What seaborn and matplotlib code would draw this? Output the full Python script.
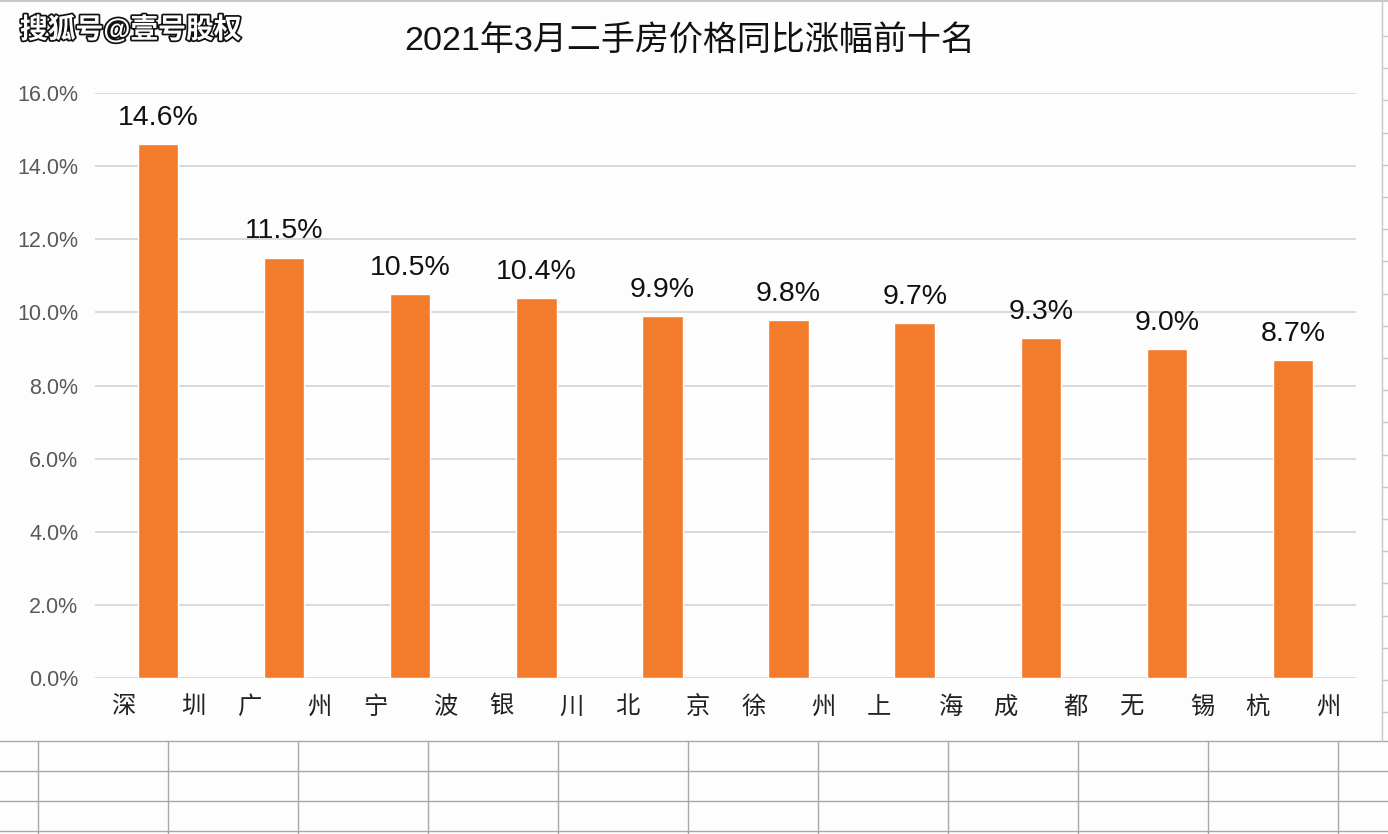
import matplotlib
matplotlib.use("Agg")
import matplotlib.pyplot as plt
import seaborn as sns
import pandas as pd
from matplotlib.lines import Line2D
import matplotlib.patheffects as pe

cities = ["深圳", "广州", "宁波", "银川", "北京", "徐州", "上海", "成都", "无锡", "杭州"]
values = [14.6, 11.5, 10.5, 10.4, 9.9, 9.8, 9.7, 9.3, 9.0, 8.7]
yticks = [0, 2, 4, 6, 8, 10, 12, 14, 16]
title = "2021年3月二手房价格同比涨幅前十名"
watermark = "搜狐号@壹号股权"

sns.set_theme(style="white")
FAM = ["Liberation Sans", "Noto Sans CJK SC", "DejaVu Sans"]
plt.rcParams["font.family"] = FAM

W, H = 1388, 834
fig = plt.figure(figsize=(W / 100, H / 100), dpi=100, facecolor="#FDFDFE")
ax = fig.add_axes([95 / W, 1 - 678 / H, (1356 - 95) / W, (678 - 93) / H])
ax.set_facecolor("#FDFDFE")

df = pd.DataFrame({"city": cities, "value": values})
sns.barplot(data=df, x="city", y="value", color="#F27C2C", width=0.32,
            saturation=1, ax=ax, zorder=3)

ax.set_xlim(-0.5, len(cities) - 0.5)
ax.set_ylim(0, 16)
ax.set_yticks(yticks)
ax.set_yticklabels([f"{v:.1f}%" for v in yticks], color="#595959", fontsize=15.5)
ax.tick_params(axis="y", length=0, pad=12)
ax.set_xticks([])
ax.set_xlabel("")
ax.set_ylabel("")
for s in ax.spines.values():
    s.set_visible(False)
ax.yaxis.grid(True, color="#D4D4D4", linewidth=1.2, zorder=0)
ax.set_axisbelow(True)

for i, (c, v) in enumerate(zip(cities, values)):
    ax.text(i, v + 0.36, f"{v:.1f}%", ha="center", va="bottom", fontsize=20.5, color="#111111")
    ax.text(i - 0.28, -0.5, c[0], ha="center", va="top", fontsize=17.5, color="#222222")
    ax.text(i + 0.28, -0.5, c[1], ha="center", va="top", fontsize=17.5, color="#222222")

fig.text(690 / W, 1 - 42 / H, title, ha="center", va="center", fontsize=24.5, color="#111111")
fig.text(20 / W, 1 - 30 / H, watermark, ha="left", va="center", fontsize=20,
         color="#FFFFFF", fontweight="bold",
         path_effects=[pe.withStroke(linewidth=2.5, foreground="#111111")])

# spreadsheet frame and grid
def hline(y, x0=0, x1=W, c="#A8A8A8", lw=1.0):
    fig.add_artist(Line2D([x0 / W, x1 / W], [1 - y / H, 1 - y / H], color=c, lw=lw))

def vline(x, y0, y1, c="#A8A8A8", lw=1.0):
    fig.add_artist(Line2D([x / W, x / W], [1 - y0 / H, 1 - y1 / H], color=c, lw=lw))

hline(1, c="#C8C8C8", lw=1.5)
for y in [741, 771, 801, 831]:
    hline(y)
for x in [38, 168, 298, 428, 558, 688, 818, 948, 1078, 1208, 1338]:
    vline(x, 741, H)
vline(1382, 0, 741, c="#C8C8C8")
for k in range(23):
    y = 36 + 32.2 * k
    if y < 741:
        hline(y, 1383, W, c="#C8C8C8")

fig.savefig("out.png", dpi=100, facecolor=fig.get_facecolor())
